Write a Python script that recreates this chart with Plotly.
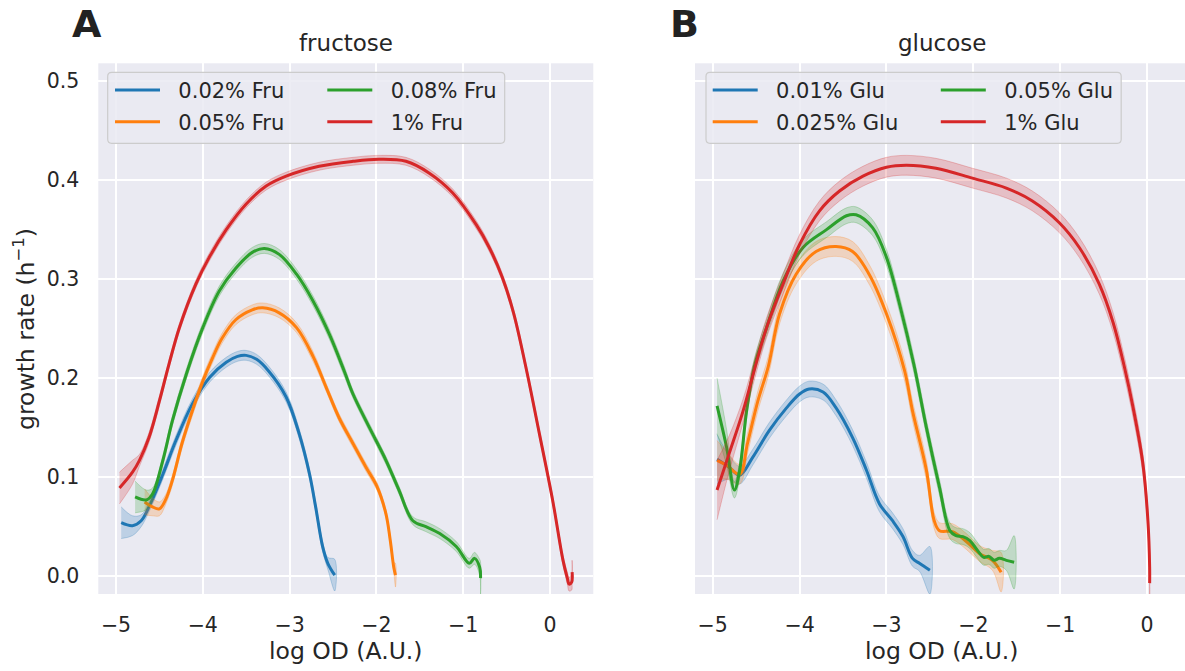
import plotly.graph_objects as go

# ---------------- data ----------------
# fructose panel
fru_002_x = [-4.94, -4.81, -4.71, -4.62, -4.46, -4.31, -4.12, -3.92, -3.73, -3.60, -3.50, -3.38, -3.24, -3.04, -2.89, -2.77, -2.70, -2.62, -2.56, -2.48]
fru_002_y = [0.054, 0.051, 0.056, 0.070, 0.103, 0.137, 0.174, 0.201, 0.216, 0.222, 0.223, 0.219, 0.207, 0.181, 0.144, 0.103, 0.070, 0.030, 0.013, 0.001]
fru_002_e = [0.016, 0.010, 0.006, 0.005, 0.005, 0.005, 0.005, 0.005, 0.005, 0.005, 0.005, 0.005, 0.005, 0.005, 0.005, 0.005, 0.005, 0.005, 0.006, 0.016]

fru_005_x = [-4.67, -4.58, -4.50, -4.43, -4.35, -4.24, -4.12, -4.00, -3.89, -3.78, -3.62, -3.43, -3.31, -3.12, -2.92, -2.73, -2.58, -2.43, -2.27, -2.12, -1.99, -1.89, -1.84, -1.80, -1.78]
fru_005_y = [0.075, 0.070, 0.068, 0.077, 0.097, 0.134, 0.167, 0.197, 0.220, 0.240, 0.259, 0.269, 0.271, 0.266, 0.251, 0.222, 0.191, 0.160, 0.134, 0.110, 0.090, 0.063, 0.036, 0.009, 0.001]
fru_005_e = [0.013, 0.009, 0.007, 0.005, 0.005, 0.005, 0.005, 0.005, 0.005, 0.005, 0.005, 0.005, 0.005, 0.005, 0.005, 0.005, 0.004, 0.004, 0.004, 0.004, 0.004, 0.004, 0.004, 0.005, 0.012]

fru_008_x = [-4.78, -4.65, -4.58, -4.46, -4.35, -4.19, -4.00, -3.81, -3.62, -3.43, -3.29, -3.12, -2.92, -2.73, -2.54, -2.37, -2.27, -2.08, -1.89, -1.74, -1.58, -1.43, -1.27, -1.08, -0.93, -0.87, -0.81, -0.80]
fru_008_y = [0.080, 0.077, 0.083, 0.117, 0.157, 0.204, 0.251, 0.288, 0.311, 0.327, 0.331, 0.325, 0.305, 0.278, 0.244, 0.207, 0.184, 0.150, 0.117, 0.087, 0.056, 0.050, 0.043, 0.030, 0.013, 0.018, 0.009, -0.002]
fru_008_e = [0.016, 0.010, 0.006, 0.005, 0.005, 0.005, 0.005, 0.005, 0.005, 0.005, 0.005, 0.005, 0.005, 0.005, 0.005, 0.005, 0.004, 0.004, 0.004, 0.004, 0.004, 0.005, 0.005, 0.005, 0.005, 0.006, 0.008, 0.016]

fru_1_x = [-4.96, -4.81, -4.73, -4.62, -4.50, -4.39, -4.27, -4.08, -3.92, -3.73, -3.50, -3.27, -3.04, -2.66, -2.27, -1.97, -1.66, -1.39, -1.12, -0.85, -0.70, -0.55, -0.42, -0.28, -0.12, 0.03, 0.15, 0.20, 0.22, 0.25, 0.255]
fru_1_y = [0.089, 0.105, 0.117, 0.140, 0.177, 0.214, 0.251, 0.295, 0.323, 0.350, 0.376, 0.394, 0.404, 0.414, 0.419, 0.421, 0.419, 0.407, 0.387, 0.355, 0.332, 0.302, 0.266, 0.212, 0.143, 0.077, 0.016, -0.002, -0.008, -0.006, 0.004]
fru_1_e = [0.016, 0.012, 0.006, 0.005, 0.005, 0.004, 0.004, 0.004, 0.004, 0.004, 0.004, 0.004, 0.004, 0.004, 0.004, 0.004, 0.004, 0.004, 0.004, 0.004, 0.004, 0.004, 0.004, 0.004, 0.004, 0.004, 0.005, 0.006, 0.007, 0.008, 0.012]

# glucose panel
glu_001_x = [-4.95, -4.81, -4.69, -4.54, -4.35, -4.15, -4.00, -3.89, -3.73, -3.58, -3.39, -3.23, -3.08, -2.93, -2.81, -2.70, -2.62, -2.50]
glu_001_y = [0.118, 0.110, 0.102, 0.120, 0.147, 0.170, 0.184, 0.189, 0.186, 0.170, 0.140, 0.107, 0.073, 0.056, 0.040, 0.018, 0.013, 0.006]
glu_001_e = [0.025, 0.012, 0.009, 0.008, 0.008, 0.008, 0.008, 0.008, 0.008, 0.008, 0.008, 0.008, 0.008, 0.008, 0.008, 0.008, 0.008, 0.024]

glu_0025_x = [-4.95, -4.84, -4.69, -4.60, -4.48, -4.36, -4.23, -4.04, -3.81, -3.58, -3.39, -3.20, -3.00, -2.79, -2.70, -2.54, -2.45, -2.39, -2.24, -2.08, -1.93, -1.78, -1.68]
glu_0025_y = [0.117, 0.112, 0.103, 0.134, 0.177, 0.212, 0.265, 0.305, 0.328, 0.333, 0.328, 0.305, 0.265, 0.207, 0.167, 0.107, 0.056, 0.046, 0.045, 0.035, 0.023, 0.016, 0.004]
glu_0025_e = [0.020, 0.014, 0.010, 0.010, 0.010, 0.010, 0.010, 0.010, 0.010, 0.010, 0.010, 0.010, 0.010, 0.010, 0.010, 0.010, 0.008, 0.008, 0.008, 0.008, 0.008, 0.010, 0.020]

glu_005_x = [-4.95, -4.84, -4.75, -4.69, -4.61, -4.52, -4.38, -4.19, -3.96, -3.69, -3.46, -3.35, -3.16, -3.00, -2.85, -2.68, -2.54, -2.39, -2.27, -2.20, -2.12, -2.04, -1.96, -1.88, -1.82, -1.76, -1.70, -1.62, -1.53]
glu_005_y = [0.172, 0.130, 0.087, 0.107, 0.167, 0.212, 0.251, 0.298, 0.332, 0.350, 0.364, 0.365, 0.352, 0.322, 0.275, 0.212, 0.150, 0.090, 0.046, 0.041, 0.040, 0.036, 0.027, 0.019, 0.020, 0.016, 0.018, 0.016, 0.014]
glu_005_e = [0.028, 0.018, 0.008, 0.008, 0.008, 0.008, 0.008, 0.008, 0.008, 0.008, 0.008, 0.008, 0.008, 0.008, 0.008, 0.008, 0.008, 0.008, 0.008, 0.008, 0.008, 0.008, 0.008, 0.008, 0.008, 0.008, 0.008, 0.010, 0.027]

glu_1_x = [-4.95, -4.81, -4.65, -4.50, -4.38, -4.19, -4.00, -3.77, -3.54, -3.27, -3.00, -2.77, -2.43, -2.01, -1.62, -1.32, -1.01, -0.78, -0.55, -0.39, -0.26, -0.16, -0.05, 0.01, 0.03, 0.03]
glu_1_y = [0.087, 0.124, 0.167, 0.215, 0.251, 0.295, 0.335, 0.369, 0.389, 0.404, 0.413, 0.415, 0.412, 0.402, 0.392, 0.379, 0.357, 0.332, 0.295, 0.256, 0.211, 0.170, 0.115, 0.056, 0.009, -0.007]
glu_1_e = [0.030, 0.018, 0.012, 0.010, 0.010, 0.010, 0.010, 0.010, 0.010, 0.010, 0.010, 0.010, 0.010, 0.010, 0.010, 0.010, 0.010, 0.010, 0.010, 0.010, 0.010, 0.010, 0.010, 0.010, 0.015, 0.025]

fru_labels = ["0.02% Fru", "0.05% Fru", "0.08% Fru", "1% Fru"]
glu_labels = ["0.01% Glu", "0.025% Glu", "0.05% Glu", "1% Glu"]
panel_titles = ["fructose", "glucose"]
panel_letters = ["A", "B"]
x_ticks = [-5, -4, -3, -2, -1, 0]
y_ticks = [0.0, 0.1, 0.2, 0.3, 0.4, 0.5]

colors = ["#1f77b4", "#ff7f0e", "#2ca02c", "#d62728"]

# ---------------- layout helpers ----------------
W, H = 1185, 671
def px(x):
    return x / W
def py(y):
    return 1 - y / H

def rgba(hexc, a):
    h = hexc.lstrip("#")
    return "rgba(%d,%d,%d,%s)" % (int(h[0:2], 16), int(h[2:4], 16), int(h[4:6], 16), a)

fig = go.Figure()

FONT = "DejaVu Sans"
TXT = "#262626"
SMOOTH = 1.0

fru_series = [(fru_002_x, fru_002_y, fru_002_e), (fru_005_x, fru_005_y, fru_005_e),
              (fru_008_x, fru_008_y, fru_008_e), (fru_1_x, fru_1_y, fru_1_e)]
glu_series = [(glu_001_x, glu_001_y, glu_001_e), (glu_0025_x, glu_0025_y, glu_0025_e),
              (glu_005_x, glu_005_y, glu_005_e), (glu_1_x, glu_1_y, glu_1_e)]

# legend placement (column-major as in matplotlib ncol=2)
legend_cols = {0: [110, 322.3], 1: [707.7, 935.8]}
row_tops = [69.8, 101.5]
legend_names = []

def add_panel(series, labels, xa, ya, panel_idx):
    for i, ((xs, ys, es), lab) in enumerate(zip(series, labels)):
        up = [y + e for y, e in zip(ys, es)]
        lo = [y - e for y, e in zip(ys, es)]
        fig.add_trace(go.Scatter(
            x=list(xs) + list(xs)[::-1], y=up + lo[::-1],
            mode="lines", fill="toself", fillcolor=rgba(colors[i], 0.22),
            line=dict(color=rgba(colors[i], 0.25), width=1, shape="spline", smoothing=SMOOTH),
            hoverinfo="skip", showlegend=False, xaxis=xa, yaxis=ya))
        leg_idx = panel_idx * 4 + i + 1
        leg_name = "legend" if leg_idx == 1 else "legend%d" % leg_idx
        legend_names.append((leg_name, panel_idx, i))
        fig.add_trace(go.Scatter(
            x=xs, y=ys, mode="lines", name="\u00a0\u00a0" + lab,
            line=dict(color=colors[i], width=3, shape="spline", smoothing=SMOOTH),
            xaxis=xa, yaxis=ya, legend=leg_name, showlegend=True))

add_panel(fru_series, fru_labels, "x", "y", 0)
add_panel(glu_series, glu_labels, "x2", "y2", 1)

layout_legends = {}
for leg_name, panel_idx, i in legend_names:
    col = i // 2
    row = i % 2
    layout_legends[leg_name] = dict(
        x=px(legend_cols[panel_idx][col]), y=py(row_tops[row]),
        xanchor="left", yanchor="top", bgcolor="rgba(0,0,0,0)", borderwidth=0,
        font=dict(family=FONT, size=21, color=TXT), itemwidth=45,
        tracegroupgap=0)

axis_common = dict(showgrid=True, gridcolor="white", gridwidth=1.6, zeroline=False,
                   showline=False, ticks="", tickfont=dict(family=FONT, size=20.5, color=TXT))

xdom1 = [px(98.3), px(593.3)]
xdom2 = [px(695), 1.0]
ydom = [py(594), py(63.3)]

fig.update_layout(
    width=W, height=H, margin=dict(l=0, r=0, t=0, b=0),
    paper_bgcolor="white", plot_bgcolor="#EAEAF2",
    font=dict(family=FONT, color=TXT),
    xaxis=dict(domain=xdom1, range=[-5.204, 0.499], tickvals=x_ticks, anchor="y",
               ticklabelstandoff=16, **axis_common),
    yaxis=dict(domain=ydom, range=[-0.018, 0.518], tickvals=y_ticks, tickformat=".1f",
               anchor="x", ticklabelstandoff=18, **axis_common),
    xaxis2=dict(domain=xdom2, range=[-5.204, 0.437], tickvals=x_ticks, anchor="y2",
                ticklabelstandoff=16, **axis_common),
    yaxis2=dict(domain=ydom, range=[-0.018, 0.518], tickvals=y_ticks, anchor="x2",
                showticklabels=False, **axis_common),
    **layout_legends,
)

# legend frames
def rounded_rect(x0, y0, x1, y1, r=4):
    X0, X1 = px(x0), px(x1)
    Y0, Y1 = py(y0), py(y1)
    rx, ry = r / W, r / H
    return ("M %f,%f L %f,%f Q %f,%f %f,%f L %f,%f Q %f,%f %f,%f "
            "L %f,%f Q %f,%f %f,%f L %f,%f Q %f,%f %f,%f Z") % (
        X0 + rx, Y0, X1 - rx, Y0, X1, Y0, X1, Y0 - ry, X1, Y1 + ry, X1, Y1, X1 - rx, Y1,
        X0 + rx, Y1, X0, Y1, X0, Y1 + ry, X0, Y0 - ry, X0, Y0, X0 + rx, Y0)

for (x0, x1) in [(107.7, 504.7), (706, 1121.2)]:
    fig.add_shape(type="path", path=rounded_rect(x0, 72.3, x1, 143.3), xref="paper", yref="paper",
                  fillcolor="rgba(234,234,242,0.85)", line=dict(color="#CCCCCC", width=1.2),
                  layer="above")

# titles, axis labels, panel letters
ann = []
for t, cx in zip(panel_titles, [345.8, 942.5]):
    ann.append(dict(text=t, x=px(cx), y=py(43), xref="paper", yref="paper", showarrow=False,
                    xanchor="center", yanchor="middle", font=dict(family=FONT, size=23, color=TXT)))
    ann.append(dict(text="log OD (A.U.)", x=px(cx), y=py(651), xref="paper", yref="paper",
                    showarrow=False, xanchor="center", yanchor="middle",
                    font=dict(family=FONT, size=23.5, color=TXT)))
for t, cx in zip(panel_letters, [87, 684.5]):
    ann.append(dict(text="<b>%s</b>" % t, x=px(cx), y=py(24), xref="paper", yref="paper",
                    showarrow=False, xanchor="center", yanchor="middle",
                    font=dict(family=FONT, size=38, color="#222222")))
ann.append(dict(text="growth rate (h<sup>\u22121</sup>)", x=px(24), y=py(329), xref="paper", yref="paper",
                showarrow=False, xanchor="center", yanchor="middle", textangle=-90,
                font=dict(family=FONT, size=23.5, color=TXT)))
fig.update_layout(annotations=ann)

fig.write_html("out.html")
